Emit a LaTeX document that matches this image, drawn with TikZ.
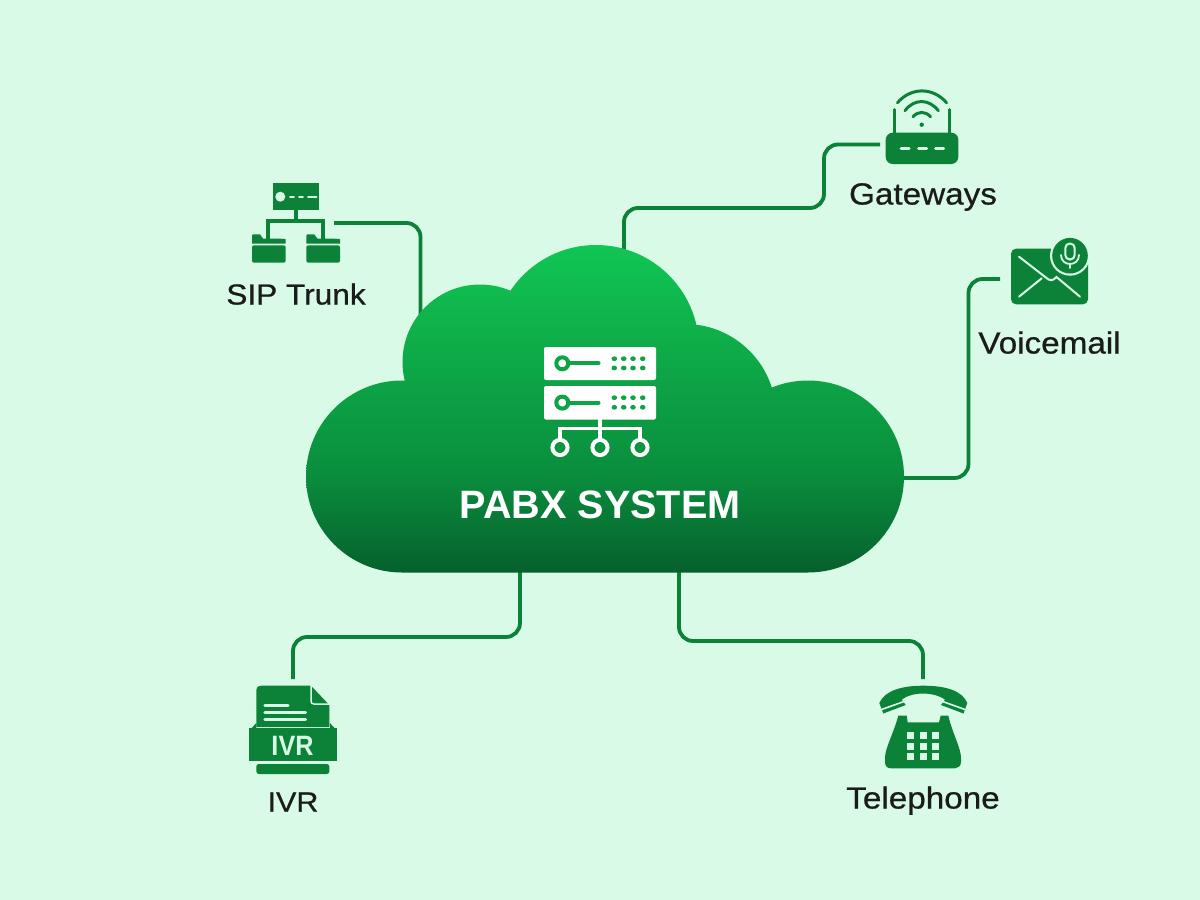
\documentclass[tikz,border=0pt]{standalone}
\usepackage{fontspec}
\setmainfont{Liberation Sans}
\newfontfamily\lab[FakeStretch=1.09,FakeBold=0.7]{Liberation Sans}
\newfontfamily\nb[FakeStretch=0.9]{Liberation Sans}
\definecolor{bgc}{HTML}{DAFAE8}
\definecolor{gr}{HTML}{0C8238}
\definecolor{ink}{HTML}{1A1C1A}
\definecolor{cA}{HTML}{05602B}\definecolor{cB}{HTML}{076B31}\definecolor{cC}{HTML}{0A8F3E}
\definecolor{cD}{HTML}{0C9F44}\definecolor{cE}{HTML}{0FB04A}\definecolor{cF}{HTML}{10C654}
\pgfdeclareverticalshading{cloudgrad}{100bp}{color(0bp)=(cA);color(25bp)=(cA);color(28.5bp)=(cB);color(40.7bp)=(cC);color(51.3bp)=(cD);color(62bp)=(cE);color(75bp)=(cF);color(100bp)=(cF)}
\tikzset{
 x=1pt,y=-1pt,
 conn/.style={draw=gr,line width=3.8pt,rounded corners=14pt},
 label/.style={anchor=base,inner sep=0pt,text=ink,font=\lab\fontsize{30.5}{30}\selectfont},
 iconfill/.style={fill=gr,draw=none},
 lightline/.style={draw=bgc,line cap=round},
 darkline/.style={draw=gr,line cap=round},
 whiteline/.style={draw=white,line width=3.6pt},
 serverbox/.style={fill=white,draw=none,rounded corners=2pt},
}
\begin{document}
\begin{tikzpicture}
\useasboundingbox (0,0) rectangle (1200,900);
\fill[bgc] (0,0) rectangle (1200,900);

% connector end points
\coordinate (sipIcon) at (334,223);
\coordinate (cloudSip) at (420.5,330);
\coordinate (gwIcon) at (880,144.5);
\coordinate (cloudGw) at (624,262);
\coordinate (vmIcon) at (1000,279);
\coordinate (cloudVm) at (895,478);
\coordinate (ivrIcon) at (293,679);
\coordinate (cloudIvr) at (520,565);
\coordinate (telIcon) at (923,679);
\coordinate (cloudTel) at (679,565);

% connectors
\draw[conn] (sipIcon) -| (cloudSip);
\draw[conn] (cloudGw) |- (824,208) |- (gwIcon);
\draw[conn] (cloudVm) -| (968.5,400) |- (vmIcon);
\draw[conn] (cloudIvr) -- (520,637) -| (ivrIcon);
\draw[conn] (cloudTel) -- (679,641) -| (telIcon);

% cloud: union of lobes and a base
\shade[shading=cloudgrad]
 (402,476.5) circle (96)
 (808,476.5) circle (96)
 (596,348) circle (103)
 (480,362) circle (77.5)
 (685,415) circle (91)
 (402,420) -- (808,420) -- (808,572.5) -- (402,572.5) -- cycle;

% server icon
\fill[serverbox] (544,347) rectangle (656,380);
\fill[serverbox] (544,386) rectangle (656,419.5);
\foreach \yy in {363.3,402.6}{
 \draw[draw=cD!70!cE,line width=4pt,fill=white] (562.3,\yy) circle (6);
 \draw[draw=cD!70!cE,line width=4pt,line cap=round] (568,\yy) -- (598.5,\yy);
}
\foreach \xx in {614.3,623.7,633,642.7}{
 \foreach \yy in {358.7,368,397.7,407.3}{
  \fill[cD!70!cE] (\xx,\yy) ellipse (2.8 and 2.4);
 }
}
\draw[whiteline] (600,419) -- (600,440);
\draw[whiteline] (560,440) -- (560,428.5) -- (640,428.5) -- (640,440);
\foreach \xx in {560,600,640}{
 \draw[draw=white,line width=4pt] (\xx,447.5) circle (7.6);
}
\node[anchor=base,inner sep=0pt,text=white,font=\bfseries\fontsize{39.6}{39}\selectfont] (pabx) at (600,518) {PABX SYSTEM};

% SIP Trunk icon
\fill[iconfill] (272.7,183.3) rectangle (319.3,210.3);
\fill[bgc] (280.3,196.7) circle (5);
\draw[lightline,line width=1.8pt] (290,196.7) -- (294,196.7) (299,196.7) -- (303,196.7) (308,196.7) -- (316.5,196.7);
\draw[gr,line width=4pt] (296,210) -- (296,221);
\draw[gr,line width=4pt] (268.3,240) -- (268.3,221) -- (323.3,221) -- (323.3,240);
\foreach \xx in {252,306.3}{
 \fill[iconfill] (\xx,235.5) -- (\xx+1,234.3) -- (\xx+8,234.3) -- (\xx+11,238.5) -- (\xx+33,238.8) -- (\xx+33.7,239.5) -- (\xx+33.7,243.5) -- (\xx,243.5) -- cycle;
 \fill[iconfill,rounded corners=2pt] (\xx,245.3) rectangle (\xx+33.7,262.7);
}
\node[label,font=\lab\fontsize{29}{29}\selectfont] (sipLabel) at (296,304.5) {SIP Trunk};

% Gateways icon
\fill[iconfill,rounded corners=7pt] (885.7,132.7) rectangle (958.3,164);
\draw[lightline,line width=3pt] (901,148.3) -- (909,148.3) (918.5,148.3) -- (926.5,148.3) (935.5,148.3) -- (943.5,148.3);
\draw[darkline,line width=3pt] (894,134) -- (894,109.5) (949.3,134) -- (949.3,109.5);
\fill[gr] (921.7,124.7) circle (2.2);
\draw[darkline,line width=3pt] (913,116.7) .. controls (918,111) and (925.5,111) .. (930.5,116.7);
\draw[darkline,line width=3pt] (905,110.7) .. controls (914,98.5) and (929,98.5) .. (938.3,110.7);
\draw[darkline,line width=3pt] (897.5,102.7) .. controls (911,87) and (933,87) .. (946.5,102.7);
\node[label] (gwLabel) at (923,204.5) {Gateways};

% Voicemail icon
\fill[iconfill,rounded corners=5pt] (1011,248.7) rectangle (1088,304.3);
\draw[lightline,line width=2pt] (1019,256.7) -- (1046.5,278) .. controls (1050,281) and (1053,281) .. (1056.5,277) -- (1080,296.7);
\draw[lightline,line width=2pt] (1019,296.7) -- (1041.7,278.3);
\fill[bgc] (1070,255.7) circle (20);
\fill[gr] (1070,255.7) circle (17.8);
\draw[draw=bgc,line width=2pt,rounded corners=4.5pt] (1065.3,243.5) rectangle (1074.7,259.5);
\draw[lightline,line width=1.8pt] (1061,255) .. controls (1061,267) and (1079,267) .. (1079,255);
\draw[lightline,line width=1.8pt] (1070,264) -- (1070,268);
\node[label] (vmLabel) at (1049.5,353.5) {Voicemail};

% IVR icon
\fill[iconfill,rounded corners=2.5pt] (256.3,764) -- (329.3,764) -- (329.3,774) -- (256.3,774) -- cycle;
\fill[iconfill] (256.3,690) .. controls (256.3,687) and (258,685.7) .. (261,685.7) -- (311,685.7) -- (329.3,705) -- (329.3,727) -- (256.3,727) -- cycle;
\draw[lightline,line width=1.5pt] (311,685) -- (311,701) .. controls (311,703) and (312,704) .. (314,704) -- (330,704);
\draw[lightline,line width=3.3pt] (265,705.7) -- (288,705.7) (265,712.7) -- (305.5,712.7) (265,719.5) -- (305.5,719.5);
\fill[iconfill] (251.7,728) -- (256.3,723) -- (256.3,728) -- cycle;
\fill[iconfill] (334.5,728) -- (329.9,723) -- (329.9,728) -- cycle;
\fill[iconfill] (249,728.3) rectangle (337.3,761.3);
\node[anchor=base,inner sep=0pt,text=bgc,font=\nb\bfseries\fontsize{28}{28}\selectfont] (ivrBand) at (292.5,755) {IVR};
\node[label,font=\lab\fontsize{28}{28}\selectfont] (ivrLabel) at (293,811.7) {IVR};

% Telephone icon
\fill[iconfill] (879.3,703)
 .. controls (885,690) and (903,685.7) .. (923.3,685.7)
 .. controls (944,685.7) and (962,690) .. (967.3,703)
 -- (963.5,713.5) -- (941,705) -- (945,699.5)
 .. controls (938,695) and (930,693.5) .. (923.3,693.5)
 .. controls (916,693.5) and (908,695) .. (901.7,699.5)
 -- (905.7,705) -- (883.3,713.5) -- cycle;
\draw[draw=bgc,line width=1.6pt] (881.5,709.5) -- (904,701.5) (965,709.5) -- (942.6,701.5);
\fill[iconfill] (898.3,715.7) -- (906.7,715.7) -- (907.7,722.3) -- (939,722.3) -- (940.7,715.7) -- (948.3,715.7)
 .. controls (953,735) and (961,748) .. (961,758)
 -- (961,762) .. controls (961,766) and (958,768.3) .. (955,768.3)
 -- (891,768.3) .. controls (887,768.3) and (885,766) .. (885,762)
 -- (885,758) .. controls (885,748) and (893,735) .. (898.3,715.7) -- cycle;
\foreach \xx in {907,919.7,932.3}{
 \foreach \yy in {731.7,742.7,753.3}{
  \fill[bgc] (\xx,\yy) rectangle +(6.8,6.8);
 }
}
\node[label] (telLabel) at (923,808.5) {Telephone};
\end{tikzpicture}
\end{document}
